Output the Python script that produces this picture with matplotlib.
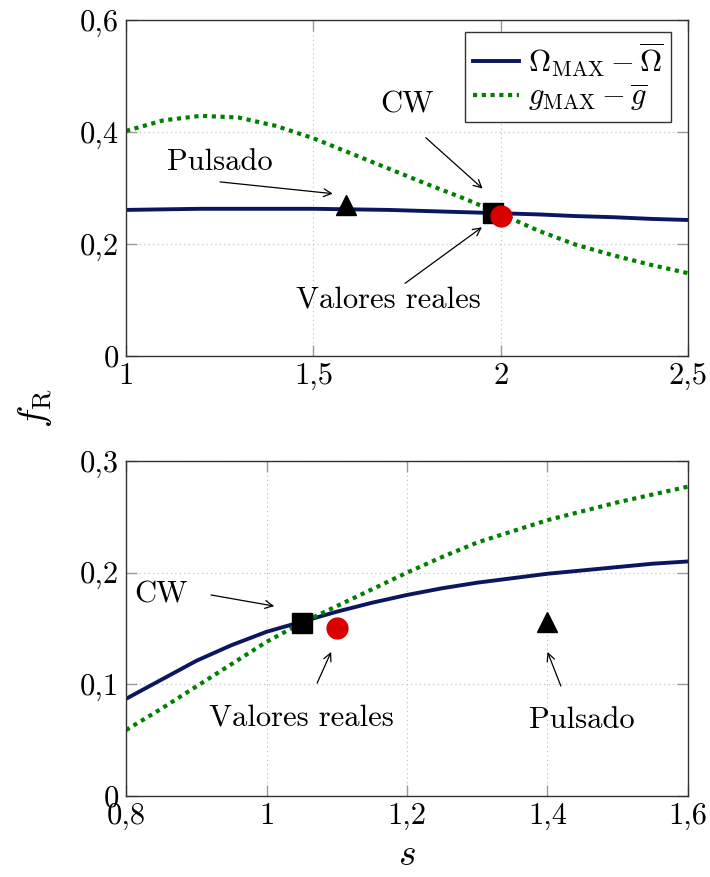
import matplotlib
matplotlib.use('Agg')
import matplotlib.pyplot as plt

plt.rcParams['font.family'] = 'cmr10'
plt.rcParams['mathtext.fontset'] = 'cm'
plt.rcParams['axes.unicode_minus'] = False
plt.rcParams['font.size'] = 22

# curva superior: barrido en s
s_top = [1.0, 1.1, 1.2, 1.3, 1.4, 1.5, 1.6, 1.7, 1.8, 1.9, 2.0, 2.1, 2.2, 2.3, 2.4, 2.5]
omega_top = [0.261, 0.262, 0.263, 0.263, 0.263, 0.263, 0.262, 0.261, 0.259, 0.257,
             0.255, 0.253, 0.250, 0.248, 0.245, 0.243]
g_top = [0.402, 0.421, 0.429, 0.426, 0.411, 0.389, 0.362, 0.335, 0.308, 0.282,
         0.254, 0.224, 0.199, 0.180, 0.163, 0.148]

# curva inferior
s_bot = [0.80, 0.85, 0.90, 0.95, 1.00, 1.05, 1.10, 1.15, 1.20, 1.25, 1.30,
         1.35, 1.40, 1.45, 1.50, 1.55, 1.60]
omega_bot = [0.087, 0.104, 0.121, 0.135, 0.147, 0.156, 0.165, 0.173, 0.180,
             0.186, 0.191, 0.195, 0.199, 0.202, 0.205, 0.208, 0.210]
g_bot = [0.059, 0.078, 0.098, 0.118, 0.138, 0.155, 0.170, 0.185, 0.200,
         0.214, 0.227, 0.237, 0.247, 0.255, 0.263, 0.270, 0.277]

# puntos medidos (s, fR)
cw_top, puls_top, real_top = (1.98, 0.255), (1.587, 0.270), (2.0, 0.250)
cw_bot, puls_bot, real_bot = (1.05, 0.155), (1.40, 0.156), (1.10, 0.150)

xt_top = [1, 1.5, 2, 2.5]
yt_top = [0, 0.2, 0.4, 0.6]
xt_bot = [0.8, 1.0, 1.2, 1.4, 1.6]
yt_bot = [0, 0.1, 0.2, 0.3]

NAVY = '#0b1660'
GREEN = '#008000'
RED = '#d90000'


def lab(v):
    return ('%g' % v).replace('.', ',')


def style(ax, xt, yt, xlim, ylim):
    ax.set_xlim(*xlim)
    ax.set_ylim(*ylim)
    ax.set_xticks(xt)
    ax.set_yticks(yt)
    ax.set_xticklabels([lab(v) for v in xt])
    ax.set_yticklabels([lab(v) for v in yt])
    ax.tick_params(direction='in', length=8, width=1, color='#999999',
                   top=True, right=True, labelsize=22, pad=5)
    ax.grid(True, linestyle=(0, (1, 3)), color='#bbbbbb', lw=0.8)
    for sp in ax.spines.values():
        sp.set_linewidth(1.0)
        sp.set_color('#333333')


def marks(ax, cw, puls, real):
    ax.plot(*cw, 's', color='black', ms=15, zorder=5)
    ax.plot(*puls, '^', color='black', ms=15, zorder=5)
    ax.plot(*real, 'o', color=RED, ms=15, zorder=6)


def note(ax, text, tpos, tail, head):
    ax.text(*tpos, text, ha='center', va='center', fontsize=22)
    ax.annotate('', xy=head, xytext=tail,
                arrowprops=dict(arrowstyle='->', lw=0.9, color='black',
                                shrinkA=0, shrinkB=0, mutation_scale=14))


fig = plt.figure(figsize=(7.1, 8.77), dpi=100)
ax1 = fig.add_axes([0.1775, 0.594, 0.7915, 0.3831])
ax2 = fig.add_axes([0.1775, 0.0924, 0.7915, 0.382])

ax1.plot(s_top, omega_top, color=NAVY, lw=2.8,
         label=r'$\Omega_{\mathrm{MAX}} - \overline{\Omega}$')
ax1.plot(s_top, g_top, color=GREEN, lw=3, dashes=(1, 1.1), dash_capstyle='butt',
         label=r'$g_{\mathrm{MAX}} - \overline{g}$')
marks(ax1, cw_top, puls_top, real_top)
style(ax1, xt_top, yt_top, (1, 2.5), (0, 0.6))
note(ax1, 'Pulsado', (1.251, 0.346), (1.251, 0.311), (1.552, 0.290))
note(ax1, 'CW', (1.75, 0.448), (1.80, 0.390), (1.952, 0.299))
note(ax1, 'Valores reales', (1.70, 0.100), (1.745, 0.130), (1.95, 0.230))
leg = ax1.legend(loc='upper right', fontsize=22, fancybox=False, framealpha=1,
                 edgecolor='#333333', handlelength=1.5, borderpad=0.25,
                 labelspacing=0.1, handletextpad=0.3, borderaxespad=0,
                 bbox_to_anchor=(0.970, 0.964))
leg.get_frame().set_linewidth(1.0)

ax2.plot(s_bot, omega_bot, color=NAVY, lw=2.8)
ax2.plot(s_bot, g_bot, color=GREEN, lw=3, dashes=(1, 1.1), dash_capstyle='butt')
marks(ax2, cw_bot, puls_bot, real_bot)
style(ax2, xt_bot, yt_bot, (0.8, 1.6), (0, 0.3))
note(ax2, 'CW', (0.85, 0.180), (0.921, 0.180), (1.011, 0.170))
note(ax2, 'Valores reales', (1.05, 0.070), (1.072, 0.101), (1.092, 0.129))
note(ax2, 'Pulsado', (1.449, 0.068), (1.419, 0.0985), (1.40, 0.129))
ax2.set_xlabel(r'$s$', fontsize=27, labelpad=6)

fig.text(0.050, 0.535, r'$f_{\mathrm{R}}$', rotation=90, fontsize=27,
         ha='center', va='center')

fig.savefig('out.png', dpi=100)
